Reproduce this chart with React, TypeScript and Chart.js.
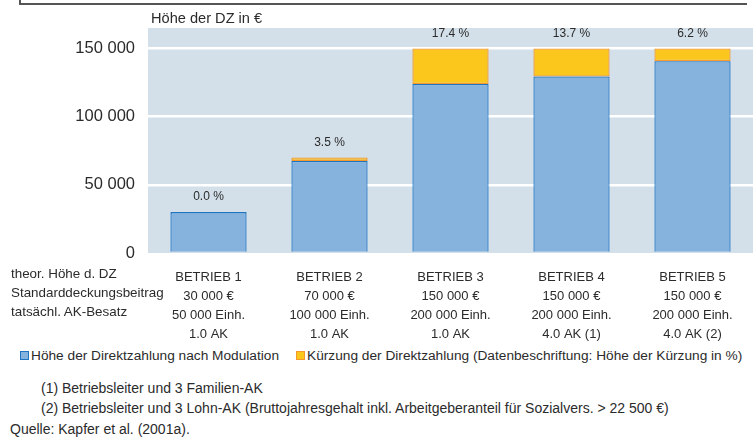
import React, { useEffect, useRef } from "react";
import { Chart, registerables } from "chart.js";

Chart.register(...registerables);

const categories: string[][] = [
  ["BETRIEB 1", "30 000 €", "50 000 Einh.", "1.0 AK"],
  ["BETRIEB 2", "70 000 €", "100 000 Einh.", "1.0 AK"],
  ["BETRIEB 3", "150 000 €", "200 000 Einh.", "1.0 AK"],
  ["BETRIEB 4", "150 000 €", "200 000 Einh.", "4.0 AK (1)"],
  ["BETRIEB 5", "150 000 €", "200 000 Einh.", "4.0 AK (2)"],
];
const paymentAfterModulation = [30000, 67550, 123900, 129450, 140700];
const reduction = [0, 2450, 26100, 20550, 9300];
const reductionLabels = ["0.0 %", "3.5 %", "17.4 %", "13.7 %", "6.2 %"];
const yTicks = [0, 50000, 100000, 150000];
const yMax = 165000;
const axisTitle = "Höhe der DZ in €";
const rowLabels = ["theor. Höhe d. DZ", "Standarddeckungsbeitrag", "tatsächl. AK-Besatz"];
const legendLabels = [
  "Höhe der Direktzahlung nach Modulation",
  "Kürzung der Direktzahlung (Datenbeschriftung: Höhe der Kürzung in %)",
];
const footnotes = [
  "(1) Betriebsleiter und 3 Familien-AK",
  "(2) Betriebsleiter und 3 Lohn-AK (Bruttojahresgehalt inkl. Arbeitgeberanteil für Sozialvers. > 22 500 €)",
];
const sourceNote = "Quelle: Kapfer et al. (2001a).";

const FONT = '"Liberation Sans", Arial, Helvetica, sans-serif';
const BLUE = "#85b3de";
const BLUE_BORDER = "#1f74c2";
const YELLOW = "#fcc71d";
const YELLOW_BORDER = "#f5992c";
const PLOT_BG = "#d3e0ea";
const TEXT = "#2b2b2b";

const fmt = (v: number) => String(v).replace(/\B(?=(\d{3})+(?!\d))/g, " ");

export default function App() {
  const canvasRef = useRef<HTMLCanvasElement | null>(null);

  useEffect(() => {
    if (!canvasRef.current) return;

    const bgPlugin = {
      id: "plotBg",
      beforeDraw(chart: any) {
        const { ctx, chartArea } = chart;
        ctx.save();
        ctx.fillStyle = PLOT_BG;
        ctx.fillRect(chartArea.left, chartArea.top, chartArea.right - chartArea.left, chartArea.bottom - chartArea.top);
        ctx.restore();
      },
    };

    const pctPlugin = {
      id: "pctLabels",
      afterDatasetsDraw(chart: any) {
        const { ctx } = chart;
        const m0 = chart.getDatasetMeta(0);
        const m1 = chart.getDatasetMeta(1);
        ctx.save();
        ctx.font = `12px ${FONT}`;
        ctx.fillStyle = TEXT;
        ctx.textAlign = "center";
        ctx.textBaseline = "middle";
        reductionLabels.forEach((t, i) => {
          const a = m0.data[i];
          const b = m1.data[i];
          const top = Math.min(a.y, b.y);
          ctx.fillText(t, a.x, top - 15);
        });
        ctx.restore();
      },
    };

    const chart = new Chart(canvasRef.current, {
      type: "bar",
      data: {
        labels: categories,
        datasets: [
          {
            label: legendLabels[0],
            data: paymentAfterModulation,
            backgroundColor: BLUE,
            borderColor: BLUE_BORDER,
            borderWidth: 1.3,
            borderSkipped: "bottom",
            barPercentage: 0.63,
            categoryPercentage: 1,
          },
          {
            label: legendLabels[1],
            data: reduction,
            backgroundColor: YELLOW,
            borderColor: YELLOW_BORDER,
            borderWidth: (c: any) => (c.raw ? 1.3 : 0),
            borderSkipped: false,
            barPercentage: 0.63,
            categoryPercentage: 1,
          },
        ],
      },
      options: {
        animation: false,
        responsive: false,
        maintainAspectRatio: false,
        layout: { padding: { top: 28, left: 0, right: 0, bottom: 0 } },
        plugins: { legend: { display: false }, tooltip: { enabled: false } },
        scales: {
          x: {
            stacked: true,
            grid: { display: false, drawTicks: false },
            border: { display: false },
            ticks: {
              font: { family: FONT, size: 13, lineHeight: 1.45 },
              color: TEXT,
              padding: 15,
              maxRotation: 0,
              autoSkip: false,
            },
            afterFit: (s: any) => {
              s.height = 92;
            },
          },
          y: {
            stacked: true,
            min: 0,
            max: yMax,
            afterBuildTicks: (s: any) => {
              s.ticks = yTicks.map((v) => ({ value: v }));
            },
            grid: {
              color: (c: any) => (c.tick && c.tick.value === 0 ? "rgba(0,0,0,0)" : "#ffffff"),
              lineWidth: 2.5,
              drawTicks: false,
            },
            border: { display: false },
            ticks: {
              font: { family: FONT, size: 16.5 },
              color: TEXT,
              padding: 13,
              callback: (v: any) => fmt(Number(v)),
            },
            afterFit: (s: any) => {
              s.width = 148;
            },
          },
        },
      },
      plugins: [bgPlugin, pctPlugin],
    });

    return () => chart.destroy();
  }, []);

  const abs = (left: number, top: number, extra: React.CSSProperties = {}): React.CSSProperties => ({
    position: "absolute",
    left,
    top,
    whiteSpace: "nowrap",
    ...extra,
  });

  return (
    <div
      style={{
        position: "absolute",
        left: 0,
        top: 0,
        width: 753,
        height: 441,
        overflow: "hidden",
        background: "#fff",
        fontFamily: FONT,
        color: TEXT,
        fontSize: 14,
      }}
    >
      <div
        style={{
          position: "absolute",
          left: 19,
          top: -10,
          width: 726,
          height: 13,
          borderLeft: "2px solid #555",
          borderBottom: "2px solid #555",
        }}
      />
      <canvas ref={canvasRef} width={753} height={345} style={{ position: "absolute", left: 0, top: 0 }} />
      <div style={abs(151, 9, { lineHeight: "18px", fontSize: 14.6 })}>{axisTitle}</div>
      <div style={abs(11, 264, { lineHeight: "19px", fontSize: 13.4 })}>
        {rowLabels.map((r) => (
          <div key={r}>{r}</div>
        ))}
      </div>
      <div style={abs(20, 347, { lineHeight: "17px", display: "flex", alignItems: "center", fontSize: 13.7 })}>
        <span style={{ display: "inline-block", width: 7, height: 7, background: BLUE, border: `1px solid ${BLUE_BORDER}`, marginRight: 2 }} />
        <span>{legendLabels[0]}</span>
        <span style={{ display: "inline-block", width: 7, height: 7, background: YELLOW, border: `1px solid ${YELLOW_BORDER}`, marginLeft: 17, marginRight: 2 }} />
        <span>{legendLabels[1]}</span>
      </div>
      <div style={abs(41, 378, { lineHeight: "20px" })}>
        {footnotes.map((f) => (
          <div key={f}>{f}</div>
        ))}
      </div>
      <div style={abs(10, 421, { lineHeight: "17px" })}>{sourceNote}</div>
    </div>
  );
}
